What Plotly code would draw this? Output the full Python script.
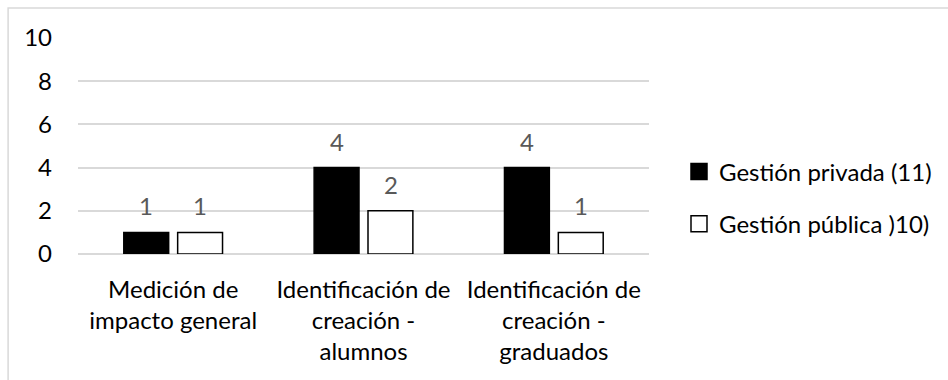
import plotly.graph_objects as go

categories = [
    "Medición de<br>impacto general",
    "Identificación de<br>creación -<br>alumnos",
    "Identificación de<br>creación -<br>graduados",
]
privada = [1, 4, 4]
publica = [1, 2, 1]
series_names = ["Gestión privada (11)", "Gestión pública )10)"]
y_ticks = [0, 2, 4, 6, 8, 10]

FONT = "Lato"
SIZE = 24
TXT = "#000000"
LABEL_GRAY = "#595959"
GRID = "#d9d9d9"

fills = ["#000000", "#ffffff"]

fig = go.Figure()
for name, vals, fill, grp in zip(series_names, (privada, publica), fills, ("a", "b")):
    fig.add_trace(go.Bar(
        x=categories, y=vals, name=name, legendgroup=grp, showlegend=False,
        marker=dict(color=fill, line=dict(color="#000000", width=1.5)),
    ))
    # legend swatch: larger square than the default bar icon
    fig.add_trace(go.Scatter(
        x=[None], y=[None], mode="markers", name=name, legendgroup=grp,
        marker=dict(symbol="square", size=16, color=fill,
                    line=dict(color="#000000", width=1.5)),
    ))

# value labels above each bar
annotations = []
for vals, shift in ((privada, -27), (publica, 27)):
    for cat, v in zip(categories, vals):
        annotations.append(dict(
            x=cat, y=v, xref="x", yref="y", text=str(v), showarrow=False,
            xshift=shift, yshift=10, yanchor="bottom",
            font=dict(family=FONT, size=SIZE, color=LABEL_GRAY),
        ))

fig.update_layout(
    width=948, height=380,
    margin=dict(l=78, r=298, t=38, b=126),
    paper_bgcolor="#ffffff", plot_bgcolor="#ffffff",
    font=dict(family=FONT, size=SIZE, color=TXT),
    barmode="group", bargap=0.434, bargroupgap=0.167,
    showlegend=True,
    legend=dict(
        x=1.0507, y=0.26, xanchor="left", yanchor="middle",
        font=dict(family=FONT, size=SIZE, color=TXT),
        tracegroupgap=18, itemwidth=30, bgcolor="rgba(0,0,0,0)",
    ),
    annotations=annotations,
    shapes=[dict(
        type="rect", xref="paper", yref="paper",
        x0=-0.1224, x1=1.6, y0=-0.7, y1=1.139,
        line=dict(color="#d9d9d9", width=1.5), fillcolor="rgba(0,0,0,0)",
        layer="below",
    )],
)
fig.update_yaxes(
    range=[0, 10], tickvals=y_ticks, showgrid=True, gridcolor=GRID, gridwidth=1.5,
    zeroline=True, zerolinecolor=GRID, zerolinewidth=1.5, showline=False,
    ticks="", ticklabelstandoff=25, tickfont=dict(size=SIZE, color=TXT),
)
fig.update_xaxes(
    showgrid=False, showline=False, ticks="", ticklabelstandoff=19,
    tickfont=dict(size=SIZE, color=TXT), tickangle=0,
)

fig.write_html("out.html")
